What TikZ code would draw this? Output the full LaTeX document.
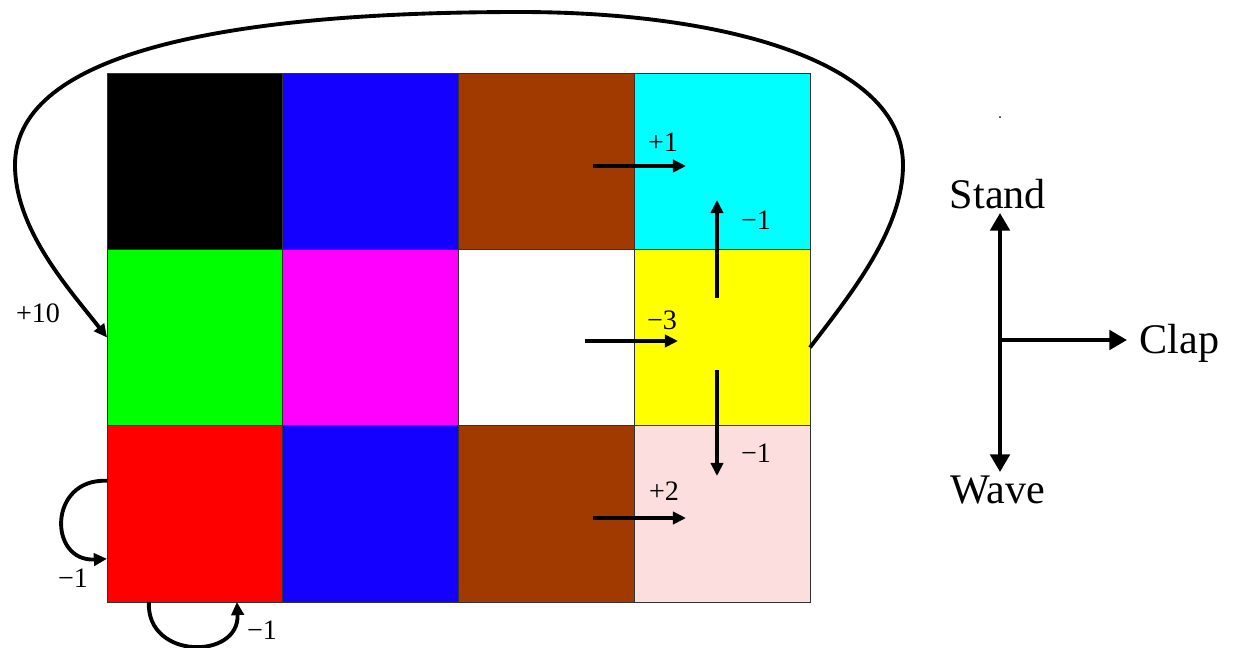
\documentclass[tikz,border=0pt]{standalone}
\usepackage{fontspec}
\setmainfont{Liberation Serif}
\usetikzlibrary{arrows.meta,calc}
\definecolor{cellblue}{HTML}{1400FF}
\definecolor{cellbrown}{HTML}{A03A00}
\definecolor{cellpink}{HTML}{FDDEDE}
\definecolor{cellcyan}{HTML}{00FFFF}
\definecolor{cellgreen}{HTML}{00FF00}
\definecolor{cellmagenta}{HTML}{FF00FF}
\definecolor{cellyellow}{HTML}{FFFF00}
\definecolor{cellred}{HTML}{FF0000}

\begin{document}
\begin{tikzpicture}[
  x=0.02cm,y=-0.02cm,
  cell/.style={draw=black!80,line width=0.5pt,minimum width=3.515cm,
               minimum height=3.527cm,inner sep=0pt,outer sep=0pt},
  arr/.style={-{Triangle[length=7.5pt,width=7pt]},line width=2.2pt},
  bigarr/.style={-{Triangle[length=10pt,width=11pt]},line width=2.2pt},
  val/.style={font=\fontsize{16}{18}\selectfont,inner sep=1pt},
  act/.style={font=\fontsize{24}{28}\selectfont,inner sep=2pt},
]
  \useasboundingbox (0,0) rectangle (1235,647);

  % grid
  \node[cell,fill=black]       (c11) at (194.9,161.2) {};
  \node[cell,fill=cellblue]    (c12) at (370.6,161.2) {};
  \node[cell,fill=cellbrown]   (c13) at (546.4,161.2) {};
  \node[cell,fill=cellcyan]    (c14) at (722.1,161.2) {};
  \node[cell,fill=cellgreen]   (c21) at (194.9,337.5) {};
  \node[cell,fill=cellmagenta] (c22) at (370.6,337.5) {};
  \node[cell,fill=white]       (c23) at (546.4,337.5) {};
  \node[cell,fill=cellyellow]  (c24) at (722.1,337.5) {};
  \node[cell,fill=cellred]     (c31) at (194.9,513.8) {};
  \node[cell,fill=cellblue]    (c32) at (370.6,513.8) {};
  \node[cell,fill=cellbrown]   (c33) at (546.4,513.8) {};
  \node[cell,fill=cellpink]    (c34) at (722.1,513.8) {};

  % transitions inside the grid
  \coordinate (p1s) at (593,166);  \coordinate (p1e) at (686,166);
  \coordinate (m3s) at (585,341);  \coordinate (m3e) at (678,341);
  \coordinate (p2s) at (593,518);  \coordinate (p2e) at (686,518);
  \coordinate (ups) at (717,298);  \coordinate (upe) at (717,200);
  \coordinate (dns) at (717,370);  \coordinate (dne) at (717,476);
  \draw[arr] (p1s) -- (p1e);
  \draw[arr] (m3s) -- (m3e);
  \draw[arr] (p2s) -- (p2e);
  \draw[arr] (ups) -- (upe);
  \draw[arr] (dns) -- (dne);
  \node[val] (lp1) at (663,142) {+1};
  \node[val] (lm3) at (662,320) {−3};
  \node[val] (lp2) at (664,491) {+2};
  \node[val] (lup) at (756,220) {−1};
  \node[val] (ldn) at (756,453) {−1};

  % reset loop back to green
  \draw[arr] ($(c24.east)+(0,10)$)
      .. controls (850,295) and (903,230) .. (903,165)
      .. controls (903,60) and (720,12) .. (520,12)
      .. controls (200,12) and (15,60) .. (15,165)
      .. controls (15,230) and (70,290) .. (c21.west);
  \node[val] (l10) at (38,313) {+10};

  % self loops on red
  \draw[arr] ($(c31.west)+(0,-33)$)
      .. controls (48,478) and (48,562) .. ($(c31.west)+(0,45)$);
  \node[val] (lsl) at (73,578) {−1};
  \draw[arr] ($(c31.south)+(-46,0)$)
      .. controls (146,660) and (240,660) .. ($(c31.south)+(42,0)$);
  \node[val] (lsb) at (262,630) {−1};

  % actions
  \coordinate (hub) at (1000,340);
  \node[act,anchor=south] (stand) at (998,213) {Stand};
  \node[act,anchor=north] (wave)  at (998,472) {Wave};
  \node[act,anchor=west]  (clap)  at (1136,343) {Clap};
  \draw[bigarr] (hub) -- (hub |- stand.south);
  \draw[bigarr] (hub) -- (hub |- wave.north);
  \draw[bigarr] (hub) -- ($(hub -| clap.west)+(-9,0)$);
  \fill (1000,117) circle (1);
\end{tikzpicture}
\end{document}
